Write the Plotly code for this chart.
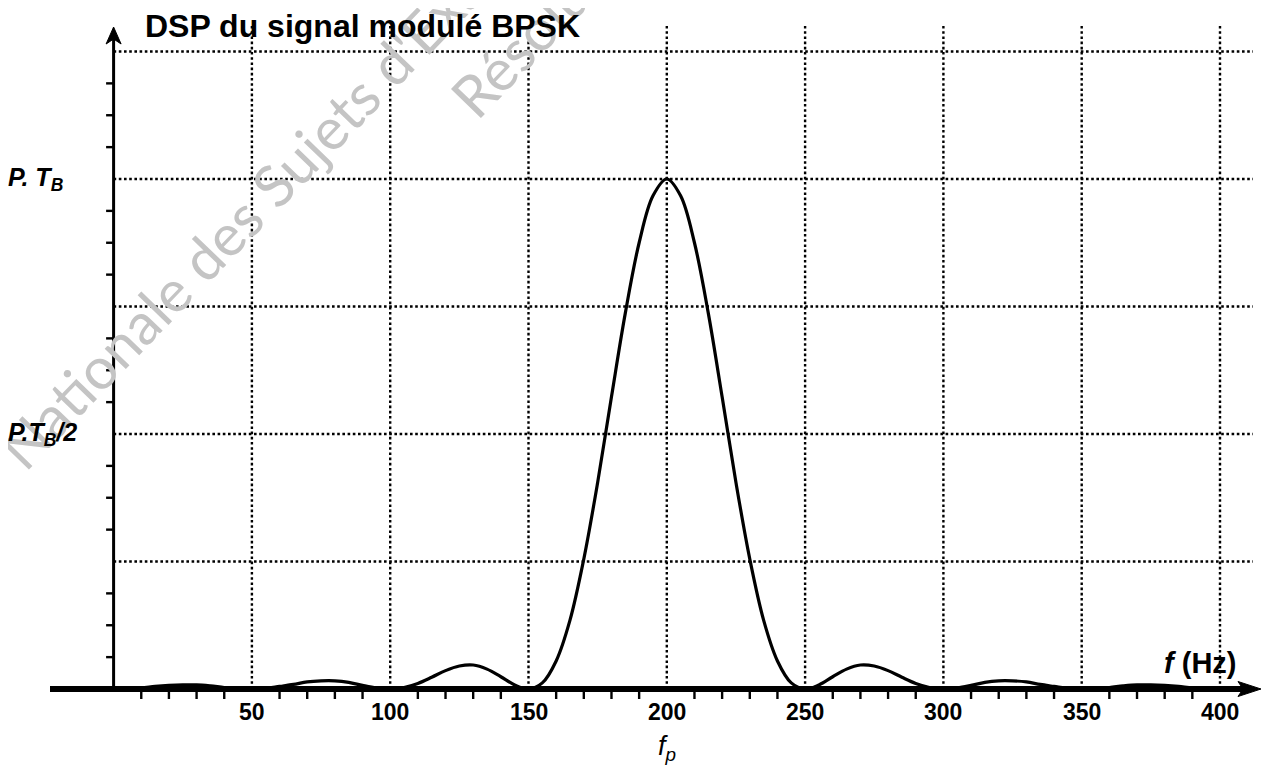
import plotly.graph_objects as go

# ---------------- data ----------------
freq_hz = [0, 5, 10, 15, 20, 25, 30, 35, 40, 45,
           50, 55, 60, 65, 70, 75, 80, 85, 90, 95,
           100, 105, 110, 115, 120, 125, 130, 135, 140, 145,
           150, 155, 160, 165, 170, 175, 180, 185, 190, 195,
           200, 205, 210, 215, 220, 225, 230, 235, 240, 245,
           250, 255, 260, 265, 270, 275, 280, 285, 290, 295,
           300, 305, 310, 315, 320, 325, 330, 335, 340, 345,
           350, 355, 360, 365, 370, 375, 380, 385, 390, 395, 400]
dsp = [0.000, 0.001, 0.002, 0.005, 0.007, 0.008, 0.008, 0.006, 0.003, 0.001,
       0.000, 0.001, 0.005, 0.009, 0.014, 0.016, 0.016, 0.013, 0.007, 0.002,
       0.000, 0.003, 0.011, 0.023, 0.036, 0.045, 0.047, 0.039, 0.024, 0.008,
       0.000, 0.012, 0.055, 0.135, 0.255, 0.405, 0.573, 0.737, 0.875, 0.967,
       1.000, 0.967, 0.875, 0.737, 0.573, 0.405, 0.255, 0.135, 0.055, 0.012,
       0.000, 0.008, 0.024, 0.039, 0.047, 0.045, 0.036, 0.023, 0.011, 0.003,
       0.000, 0.002, 0.007, 0.013, 0.016, 0.016, 0.014, 0.009, 0.005, 0.001,
       0.000, 0.001, 0.003, 0.006, 0.008, 0.008, 0.007, 0.005, 0.002, 0.001, 0.000]

x_grid = [50, 100, 150, 200, 250, 300, 350, 400]
x_tick_labels = ["50", "100", "150", "200", "250", "300", "350", "400"]
x_minor = [10, 20, 30, 40, 60, 70, 80, 90, 110, 120, 130, 140,
           160, 170, 180, 190, 210, 220, 230, 240, 260, 270, 280, 290,
           310, 320, 330, 340, 360, 370, 380, 390]
y_grid = [0.25, 0.5, 0.75, 1.0, 1.25]
y_minor = [0.0625, 0.125, 0.1875, 0.3125, 0.375, 0.4375, 0.5625, 0.625,
           0.6875, 0.8125, 0.875, 0.9375, 1.0625, 1.125, 1.1875]
y_label_vals = [1.0, 0.5]
y_label_text = ["<b><i>P. T<sub>B</sub></i></b>", "<b><i>P.T<sub>B</sub>/2</i></b>"]
fp_value = 200
title_text = "<b>DSP du signal modulé BPSK</b>"
xaxis_title = "<b><i>f</i> (Hz)</b>"
fp_text = "<i>f<sub>p</sub></i>"
watermark_1 = "Nationale des Sujets d'Examens"
watermark_2 = "Résolus"

# ---------------- geometry (page pixels; the page body has an 8px margin) ----------------
OFF = 8
PAGE_W, PAGE_H = 1271, 771
W, H = PAGE_W - OFF, PAGE_H - OFF
X0PX, XSCALE = 113.6, 2.766     # page pixel of f=0, pixels per Hz
Y0PX, YSCALE = 689.0, 510.0     # page pixel of baseline, pixels per unit
FONT = "Arial, Liberation Sans, sans-serif"
WM_FONT = "Lato, Open Sans, sans-serif"


def dx(px):
    return px / XSCALE


def dy(px):
    return px / YSCALE


def xd(px):
    return (px - X0PX) / XSCALE


def yd(py):
    return (Y0PX - py) / YSCALE


def px_paper(px):
    return (px - OFF) / W


def py_paper(py):
    return 1 - (py - OFF) / H


x_range = [xd(OFF), xd(OFF + W)]
y_range = [yd(OFF + H), yd(OFF)]

grid_top = yd(26)
grid_right = xd(1253)
axis_left = xd(50)
x_tip = xd(1261)
y_tip = yd(27)

fig = go.Figure()

fig.add_trace(go.Scatter(
    x=freq_hz, y=dsp, mode="lines",
    line=dict(color="black", width=3.2, shape="spline", smoothing=1.0),
    hoverinfo="skip", showlegend=False, cliponaxis=False))

shapes = []
grid_style = dict(color="black", width=2.4, dash="2.6px,2.6px")
for yv in y_grid:
    shapes.append(dict(type="line", xref="x", yref="y", x0=0, x1=grid_right,
                       y0=yv, y1=yv, line=grid_style, layer="below"))
for xv in x_grid:
    shapes.append(dict(type="line", xref="x", yref="y", x0=xv, x1=xv,
                       y0=0, y1=grid_top, line=grid_style, layer="below"))

# minor ticks
for yv in y_minor:
    shapes.append(dict(type="line", xref="x", yref="y", x0=-dx(7.5), x1=0,
                       y0=yv, y1=yv, line=dict(color="black", width=2.4)))
for xv in x_minor:
    shapes.append(dict(type="line", xref="x", yref="y", x0=xv, x1=xv,
                       y0=0, y1=-dy(10), line=dict(color="black", width=2.4)))

# x axis line + arrow
shapes.append(dict(type="line", xref="x", yref="y", x0=axis_left, x1=x_tip - dx(18),
                   y0=0, y1=0, line=dict(color="black", width=6)))
shapes.append(dict(type="path", xref="x", yref="y",
                   path=(f"M {x_tip},0 L {x_tip - dx(23)},{dy(7.5)} "
                         f"L {x_tip - dx(18)},0 L {x_tip - dx(23)},{-dy(7.5)} Z"),
                   fillcolor="black", line=dict(color="black", width=1)))
# y axis line + arrow
shapes.append(dict(type="line", xref="x", yref="y", x0=0, x1=0,
                   y0=-dy(2), y1=y_tip - dy(12), line=dict(color="black", width=3)))
shapes.append(dict(type="path", xref="x", yref="y",
                   path=(f"M 0,{y_tip} L {dx(7.5)},{y_tip - dy(17)} "
                         f"L 0,{y_tip - dy(12)} L {-dx(7.5)},{y_tip - dy(17)} Z"),
                   fillcolor="black", line=dict(color="black", width=1)))

annotations = []
# watermark (faint, diagonal)
wm_font = dict(family=WM_FONT, size=58, color="#c4c4c4", weight=400)
annotations.append(dict(xref="paper", yref="paper", x=px_paper(288), y=py_paper(168),
                        text=watermark_1, showarrow=False, textangle=-46,
                        xanchor="center", yanchor="middle", font=wm_font))
annotations.append(dict(xref="paper", yref="paper", x=px_paper(528), y=py_paper(36),
                        text=watermark_2, showarrow=False, textangle=-46,
                        xanchor="center", yanchor="middle", font=wm_font))

annotations.append(dict(xref="paper", yref="paper", x=px_paper(143), y=py_paper(26),
                        text=title_text, showarrow=False, xanchor="left",
                        yanchor="middle", font=dict(family=FONT, size=32, color="black")))
for xv, lab in zip(x_grid, x_tick_labels):
    annotations.append(dict(xref="x", yref="y", x=xv, y=yd(712), text=f"<b>{lab}</b>",
                            showarrow=False, xanchor="center", yanchor="middle",
                            font=dict(family=FONT, size=23, color="black")))
for yv, lab in zip(y_label_vals, y_label_text):
    annotations.append(dict(xref="paper", yref="y", x=px_paper(6), y=yv, text=lab,
                            showarrow=False, xanchor="left", yanchor="middle",
                            font=dict(family=FONT, size=25, color="black")))
annotations.append(dict(xref="x", yref="y", x=fp_value, y=yd(748), text=fp_text,
                        showarrow=False, xanchor="center", yanchor="middle",
                        font=dict(family=FONT, size=27, color="black")))
annotations.append(dict(xref="paper", yref="y", x=px_paper(1200), y=yd(663), text=xaxis_title,
                        showarrow=False, xanchor="center", yanchor="middle",
                        font=dict(family=FONT, size=29, color="black")))

fig.update_layout(
    width=W, height=H, autosize=False,
    margin=dict(l=0, r=0, t=0, b=0, pad=0),
    paper_bgcolor="white", plot_bgcolor="white",
    xaxis=dict(range=x_range, visible=False, fixedrange=True),
    yaxis=dict(range=y_range, visible=False, fixedrange=True),
    shapes=shapes, annotations=annotations, showlegend=False,
)

fig.write_html("out.html")
